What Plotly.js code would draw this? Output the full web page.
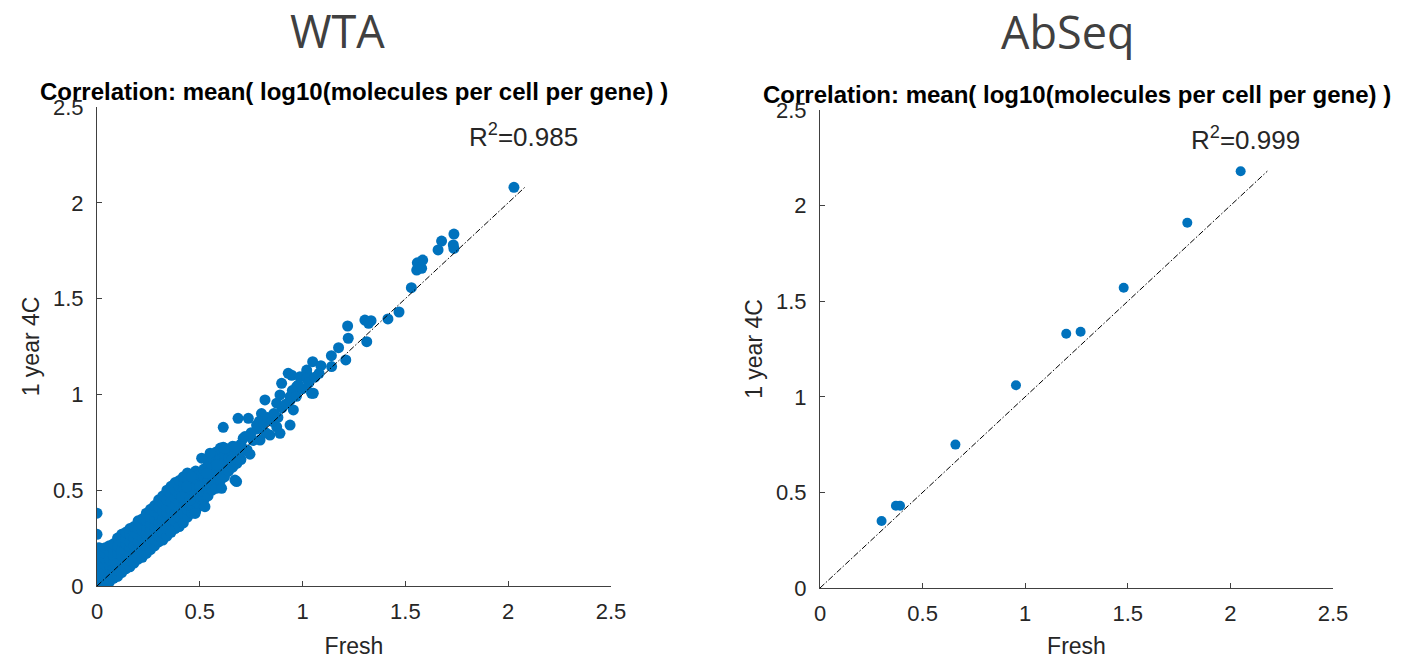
<!DOCTYPE html>
<html>
<head>
<meta charset="utf-8">
<script src="https://cdn.plot.ly/plotly-3.0.1.min.js"></script>
<style>
  html, body { margin: 0; padding: 0; background: #fff; }
  #chart { width: 1416px; height: 659px; }
</style>
</head>
<body>
<div id="chart"></div>
<script>
// WTA: per-gene mean log10(molecules per cell), [Fresh, 1 year 4C]
const wtaPoints = [
  [0,0],[0,0.02],[0,0.04],[0,0.06],[0,0.08],[0,0.1],[0,0.12],[0,0.14],[0,0.16],[0,0.19],[0,0.27],[0,0.38],
  [0.01,0.01],[0.01,0.05],[0.01,0.09],[0.01,0.13],[0.01,0.17],[0.01,0.2],
  [0.025,0.01],[0.025,0.04],[0.025,0.07],[0.025,0.1],[0.025,0.13],[0.025,0.16],[0.025,0.19],
  [0.04,0.02],[0.04,0.05],[0.04,0.08],[0.04,0.11],[0.04,0.14],[0.04,0.17],[0.04,0.2],
  [0.06,0.02],[0.06,0.05],[0.06,0.08],[0.06,0.11],[0.06,0.14],[0.06,0.18],[0.06,0.21],
  [0.08,0.04],[0.08,0.07],[0.08,0.1],[0.08,0.13],[0.08,0.16],[0.08,0.19],[0.08,0.22],
  [0.1,0.05],[0.1,0.08],[0.1,0.11],[0.1,0.14],[0.1,0.17],[0.1,0.21],[0.1,0.25],
  [0.12,0.07],[0.12,0.1],[0.12,0.13],[0.12,0.16],[0.12,0.19],[0.12,0.23],[0.12,0.27],
  [0.14,0.09],[0.14,0.12],[0.14,0.15],[0.14,0.18],[0.14,0.22],[0.14,0.25],[0.14,0.28],
  [0.16,0.1],[0.16,0.13],[0.16,0.16],[0.16,0.2],[0.16,0.23],[0.16,0.27],[0.16,0.3],
  [0.18,0.12],[0.18,0.15],[0.18,0.18],[0.18,0.21],[0.18,0.25],[0.18,0.28],[0.18,0.31],
  [0.2,0.14],[0.2,0.17],[0.2,0.2],[0.2,0.23],[0.2,0.27],[0.2,0.3],[0.2,0.34],
  [0.22,0.15],[0.22,0.19],[0.22,0.22],[0.22,0.25],[0.22,0.29],[0.22,0.32],[0.22,0.35],
  [0.24,0.17],[0.24,0.21],[0.24,0.24],[0.24,0.27],[0.24,0.31],[0.24,0.34],[0.24,0.38],
  [0.26,0.19],[0.26,0.22],[0.26,0.26],[0.26,0.29],[0.26,0.33],[0.26,0.36],[0.26,0.4],
  [0.28,0.21],[0.28,0.24],[0.28,0.28],[0.28,0.31],[0.28,0.35],[0.28,0.39],[0.28,0.42],
  [0.3,0.23],[0.3,0.26],[0.3,0.3],[0.3,0.33],[0.3,0.37],[0.3,0.41],[0.3,0.45],
  [0.32,0.24],[0.32,0.28],[0.32,0.32],[0.32,0.35],[0.32,0.39],[0.32,0.43],[0.32,0.47],
  [0.34,0.26],[0.34,0.3],[0.34,0.34],[0.34,0.38],[0.34,0.41],[0.34,0.45],[0.34,0.5],
  [0.36,0.28],[0.36,0.32],[0.36,0.36],[0.36,0.4],[0.36,0.44],[0.36,0.48],[0.36,0.52],
  [0.38,0.3],[0.38,0.34],[0.38,0.38],[0.38,0.42],[0.38,0.46],[0.38,0.5],[0.38,0.54],
  [0.4,0.31],[0.4,0.36],[0.4,0.4],[0.4,0.44],[0.4,0.48],[0.4,0.52],[0.4,0.55],
  [0.42,0.33],[0.42,0.38],[0.42,0.42],[0.42,0.46],[0.42,0.5],[0.42,0.54],[0.42,0.57],
  [0.44,0.36],[0.44,0.4],[0.44,0.44],[0.44,0.48],[0.44,0.52],[0.44,0.56],[0.44,0.59],
  [0.46,0.38],[0.46,0.42],[0.46,0.46],[0.46,0.5],[0.46,0.54],[0.46,0.58],
  [0.48,0.39],[0.48,0.44],[0.48,0.48],[0.48,0.52],[0.48,0.56],[0.48,0.6],
  [0.5,0.42],[0.5,0.46],[0.5,0.5],[0.5,0.54],[0.5,0.58],
  [0.52,0.45],[0.52,0.49],[0.52,0.53],[0.52,0.57],[0.52,0.61],
  [0.54,0.47],[0.54,0.51],[0.54,0.55],[0.54,0.59],[0.54,0.65],
  [0.56,0.5],[0.56,0.54],[0.56,0.58],[0.56,0.62],[0.56,0.67],
  [0.58,0.51],[0.58,0.56],[0.58,0.6],[0.58,0.64],[0.58,0.7],
  [0.6,0.55],[0.6,0.59],[0.6,0.63],[0.6,0.66],[0.6,0.72],
  [0.62,0.57],[0.62,0.61],[0.62,0.65],[0.62,0.69],
  [0.64,0.6],[0.64,0.64],[0.64,0.67],[0.64,0.71],
  [0.66,0.62],[0.66,0.66],[0.66,0.7],[0.66,0.73],
  [0.68,0.64],[0.68,0.68],[0.68,0.72],
  [0.7,0.66],[0.7,0.7],[0.7,0.74],
  [0.412,0.466],[0.436,0.518],[0.452,0.449],[0.46,0.571],[0.477,0.379],[0.5,0.518],
  [0.509,0.667],[0.517,0.423],[0.525,0.414],[0.533,0.588],[0.55,0.693],[0.582,0.632],
  [0.606,0.51],[0.614,0.724],[0.614,0.828],[0.623,0.719],[0.655,0.658],[0.671,0.553],
  [0.671,0.727],[0.679,0.545],[0.686,0.875],[0.711,0.771],[0.736,0.875],[0.744,0.688],
  [0.776,0.84],[0.793,0.762],[0.8,0.9],[0.817,0.971],[0.841,0.788],[0.874,0.831],
  [0.874,0.954],[0.89,0.797],[0.89,0.997],[0.898,1.058],[0.93,1.11],[0.939,0.84],
  [0.939,0.988],[0.947,1.1],[0.955,0.919],[0.971,1.04],[0.979,1.049],[0.987,1.092],
  [1.02,1.11],[1.02,1.127],[1.02,1.084],[1.044,1.006],[1.049,1.171],[1.052,1.006],
  [1.089,1.15],[1.14,1.202],[1.141,1.145],[1.175,1.244],[1.21,1.18],[1.219,1.357],
  [1.222,1.293],[1.303,1.388],[1.312,1.275],[1.321,1.371],[1.333,1.385],[1.415,1.394],
  [1.469,1.43],[1.529,1.557],[1.555,1.649],[1.558,1.687],[1.579,1.658],[1.584,1.701],
  [1.659,1.754],[1.676,1.8],[1.733,1.78],[1.736,1.762],[1.736,1.837],[2.028,2.081],
  [0.72,0.78],[0.73,0.71],[0.75,0.8],[0.76,0.76],[0.78,0.82],[0.79,0.86],[0.81,0.85],
  [0.82,0.8],[0.83,0.88],[0.85,0.86],[0.86,0.9],[0.88,0.88],[0.9,0.93],[0.92,0.95],
  [0.94,0.97],[0.95,1.02],[0.97,0.99],[1.0,1.03],[1.03,1.06],[1.06,1.09],[1.08,1.11]
];
const wtaFresh = wtaPoints.map(p => p[0]);
const wtaStored = wtaPoints.map(p => p[1]);

// AbSeq: per-antibody mean log10(molecules per cell)
const abseqFresh  = [0.30, 0.37, 0.39, 0.66, 0.955, 1.20, 1.27, 1.48, 1.79, 2.05];
const abseqStored = [0.35, 0.43, 0.43, 0.75, 1.06, 1.33, 1.34, 1.57, 1.91, 2.18];

const panelTitles = ['WTA', 'AbSeq'];
const plotTitle = 'Correlation: mean( log10(molecules per cell per gene) )';
const r2Values = [0.985, 0.999];
const xLabel = 'Fresh';
const yLabel = '1 year 4C';
const tickValues = [0, 0.5, 1, 1.5, 2, 2.5];
const tickLabels = ['0', '0.5', '1', '1.5', '2', '2.5'];

const W = 1416, H = 659;
const px = v => v / W;
const py = v => (H - v) / H;

const blue = '#0072BD';
const axisColor = '#404040';
const textColor = '#262626';
const sans = 'Liberation Sans, Arial, sans-serif';

function unityLine(xs, ys, xa, ya) {
  const top = Math.max(...xs, ...ys);
  return {
    x: [0, top], y: [0, top], xaxis: xa, yaxis: ya,
    mode: 'lines', hoverinfo: 'skip', showlegend: false,
    line: { color: '#000', width: 1, dash: '6px,2px,1.5px,2px' }
  };
}

const traces = [
  { x: wtaFresh, y: wtaStored, xaxis: 'x', yaxis: 'y', mode: 'markers', type: 'scatter',
    marker: { color: blue, size: 11, line: { width: 0 } }, showlegend: false },
  unityLine(wtaFresh, wtaStored, 'x', 'y'),
  { x: abseqFresh, y: abseqStored, xaxis: 'x2', yaxis: 'y2', mode: 'markers', type: 'scatter',
    marker: { color: blue, size: 10, line: { width: 0 } }, showlegend: false },
  unityLine(abseqFresh, abseqStored, 'x2', 'y2')
];

function axis(extra) {
  return Object.assign({
    range: [0, 2.5], tickvals: tickValues, ticktext: tickLabels,
    ticks: 'inside', ticklen: 5, tickwidth: 1, tickcolor: axisColor,
    showline: true, linecolor: axisColor, linewidth: 1, mirror: false,
    showgrid: false, zeroline: false, fixedrange: true,
    tickfont: { family: sans, size: 22, color: textColor },
    automargin: false
  }, extra);
}

const titleFont = { family: sans, size: 23, color: textColor };

const layout = {
  width: W, height: H,
  margin: { l: 0, r: 0, t: 0, b: 0 },
  paper_bgcolor: '#fff', plot_bgcolor: '#fff',
  showlegend: false,
  xaxis: axis({ domain: [px(97), px(611)], anchor: 'y', ticklabelstandoff: 6,
    title: { text: xLabel, font: titleFont, standoff: 14 } }),
  yaxis: axis({ domain: [py(586), py(107)], anchor: 'x', ticklabelstandoff: 8,
    title: { text: yLabel, font: titleFont, standoff: 6 } }),
  xaxis2: axis({ domain: [px(820), px(1333)], anchor: 'y2', ticklabelstandoff: 6,
    title: { text: xLabel, font: titleFont, standoff: 14 } }),
  yaxis2: axis({ domain: [py(588), py(110)], anchor: 'x2', ticklabelstandoff: 8,
    title: { text: yLabel, font: titleFont, standoff: 6 } }),
  annotations: [
    { text: panelTitles[0], xref: 'paper', yref: 'paper', x: px(337), y: py(31),
      xanchor: 'center', yanchor: 'middle', showarrow: false,
      font: { family: 'Open Sans, sans-serif', size: 45, color: '#404040' } },
    { text: panelTitles[1], xref: 'paper', yref: 'paper', x: px(1067), y: py(32),
      xanchor: 'center', yanchor: 'middle', showarrow: false,
      font: { family: 'Open Sans, sans-serif', size: 45, color: '#404040' } },
    { text: '<b>' + plotTitle + '</b>', xref: 'paper', yref: 'paper', x: px(354), y: py(92),
      xanchor: 'center', yanchor: 'middle', showarrow: false,
      font: { family: sans, size: 24, color: '#000' } },
    { text: '<b>' + plotTitle + '</b>', xref: 'paper', yref: 'paper', x: px(1076.5), y: py(95),
      xanchor: 'center', yanchor: 'middle', showarrow: false,
      font: { family: sans, size: 24, color: '#000' } },
    { text: 'R<sup>2</sup>=' + r2Values[0].toFixed(3), xref: 'x', yref: 'y', x: 1.8, y: 2.35,
      xanchor: 'left', yanchor: 'middle', showarrow: false,
      font: { family: sans, size: 26, color: textColor } },
    { text: 'R<sup>2</sup>=' + r2Values[1].toFixed(3), xref: 'x2', yref: 'y2', x: 1.8, y: 2.35,
      xanchor: 'left', yanchor: 'middle', showarrow: false,
      font: { family: sans, size: 26, color: textColor } }
  ]
};

Plotly.newPlot('chart', traces, layout, { staticPlot: true, displayModeBar: false });
</script>
</body>
</html>
